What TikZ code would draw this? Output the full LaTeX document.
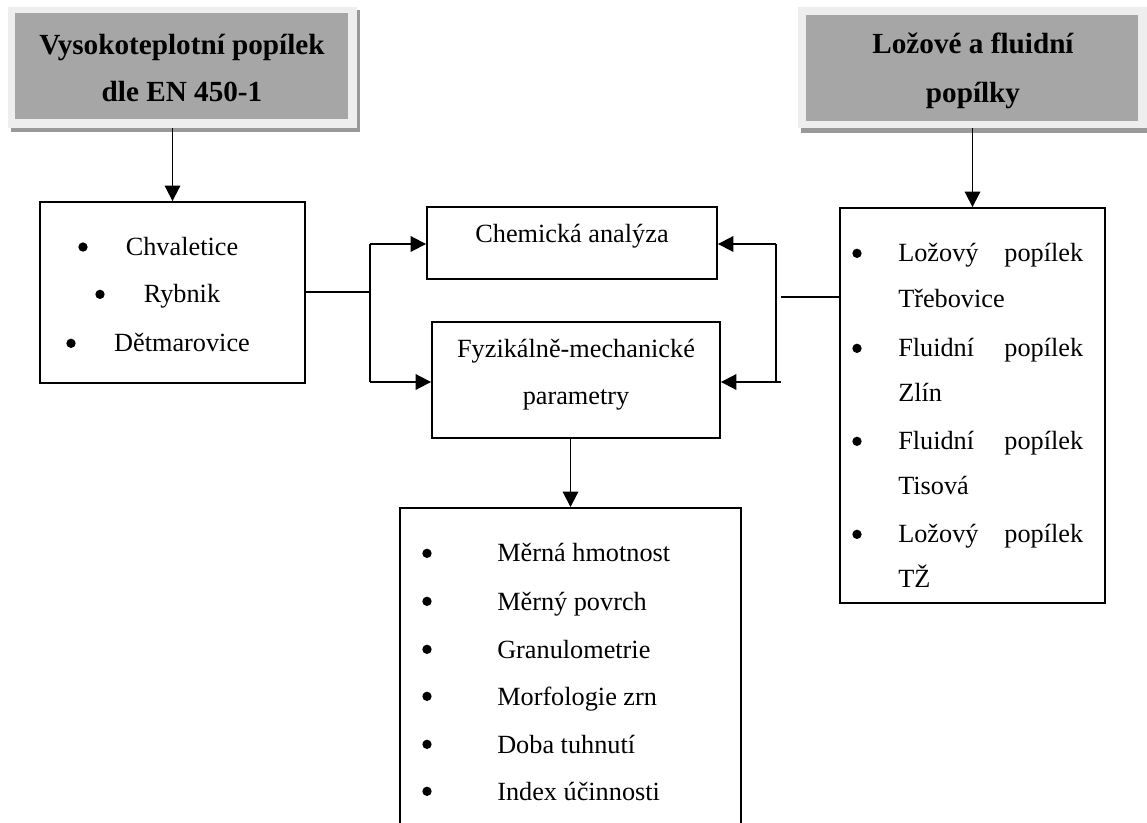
\documentclass[tikz,border=0pt]{standalone}
\usepackage{fontspec}
\setmainfont{Liberation Serif}
\usetikzlibrary{arrows.meta,fit}
\definecolor{titlefill}{HTML}{A6A6A6}
\definecolor{framefill}{HTML}{EEEEEE}
\definecolor{shadowfill}{HTML}{999999}
\begin{document}
\begin{tikzpicture}[x=0.75pt,y=-0.75pt,
  box/.style={draw=black,line width=1.4pt,inner sep=0pt,fill=white},
  plainfit/.style={inner sep=0pt,draw=none},
  lbl/.style={inner sep=0pt,anchor=base,font=\fontsize{19.7}{23}\selectfont},
  lblw/.style={lbl,anchor=base west},
  jlbl/.style={lblw,text width=138.75pt,align=justify},
  ttl/.style={inner sep=0pt,anchor=base,font=\fontsize{21.9}{26}\selectfont\bfseries},
  bul/.style={circle,fill=black,draw=none,inner sep=0pt,minimum size=7pt,yshift=6.5pt},
  arr/.style={line width=1.4pt,-{Triangle[length=11.5pt,width=11.5pt]}},
  con/.style={line width=1.4pt}]
\useasboundingbox (0,0) rectangle (1147,823);

% title boxes
\node[plainfit,fill=shadowfill,fit={(11,10) (360,132)}] (tlshadow) {};
\node[plainfit,fill=framefill,fit={(8,7) (357,128)}] (tlframe) {};
\node[plainfit,fill=titlefill,fit={(15,13) (348,119)}] (tlbox) {};
\node[ttl] (tl1) at (182,54.5) {Vysokoteplotní popílek};
\node[ttl] (tl2) at (182,101.7) {dle EN 450-1};

\node[plainfit,fill=shadowfill,fit={(801,10) (1156,133)}] (trshadow) {};
\node[plainfit,fill=framefill,fit={(798,7) (1152,128)}] (trframe) {};
\node[plainfit,fill=titlefill,fit={(806,15) (1138,121)}] (trbox) {};
\node[ttl] (tr1) at (973,53.5) {Ložové a fluidní};
\node[ttl] (tr2) at (973,103) {popílky};

% content boxes
\node[box,fit={(40,202) (305,383)}] (left) {};
\node[box,fit={(427,207) (717,279)}] (chem) {};
\node[box,fit={(432,322) (720,438)}] (fyz) {};
\node[box,fit={(840,208) (1105,603)}] (right) {};
\node[box,fit={(400,508) (741,845)}] (bottom) {};

% left box texts
\node[bul] (lb1) at (83,255.7) {};
\node[lbl] (lt1) at (182,255.7) {Chvaletice};
\node[bul] (lb2) at (100,303) {};
\node[lbl] (lt2) at (182,303) {Rybnik};
\node[bul] (lb3) at (71,352) {};
\node[lbl] (lt3) at (182,352) {Dětmarovice};

% middle boxes texts
\node[lbl] (ct) at (572,243) {Chemická analýza};
\node[lbl] (ft1) at (576,358) {Fyzikálně-mechanické};
\node[lbl] (ft2) at (576,405) {parametry};

% right box texts
\node[bul] (rb1) at (857,262) {};
\node[jlbl] (rt1) at (898,262) {Ložový\hfill popílek};
\node[lblw] (rt2) at (898,308) {Třebovice};
\node[bul] (rb2) at (857,357) {};
\node[jlbl] (rt3) at (898,357) {Fluidní\hfill popílek};
\node[lblw] (rt4) at (898,402) {Zlín};
\node[bul] (rb3) at (857,450) {};
\node[jlbl] (rt5) at (898,450) {Fluidní\hfill popílek};
\node[lblw] (rt6) at (898,495) {Tisová};
\node[bul] (rb4) at (857,543) {};
\node[jlbl] (rt7) at (898,543) {Ložový\hfill popílek};
\node[lblw] (rt8) at (898,588) {TŽ};

% bottom box texts
\node[bul] (bb1) at (427,562) {};
\node[lblw] (bt1) at (497,562) {Měrná hmotnost};
\node[bul] (bb2) at (427,610) {};
\node[lblw] (bt2) at (497,610) {Měrný povrch};
\node[bul] (bb3) at (427,658) {};
\node[lblw] (bt3) at (497,658) {Granulometrie};
\node[bul] (bb4) at (427,705) {};
\node[lblw] (bt4) at (497,705) {Morfologie zrn};
\node[bul] (bb5) at (427,753) {};
\node[lblw] (bt5) at (497,753) {Doba tuhnutí};
\node[bul] (bb6) at (427,800) {};
\node[lblw] (bt6) at (497,800) {Index účinnosti};

% connectors
\draw[arr] (left.north |- tlframe.south) -- (left.north);
\draw[arr] (right.north |- trframe.south) -- (right.north);
\draw[arr] (bottom.north |- fyz.south) -- (bottom.north);

\coordinate (jl) at (370,292);
\coordinate (jlt) at (370,244);
\coordinate (jlb) at (370,382);
\draw[con] (left.east |- jl) -- (jl);
\draw[con] (jlt) -- (jlb);
\draw[arr] (jlt) -- (chem.west |- jlt);
\draw[arr] (jlb) -- (fyz.west |- jlb);

\coordinate (jr) at (781,297);
\coordinate (jrt) at (776,244);
\coordinate (jrb) at (776,382);
\coordinate (jrbs) at (781,382);
\draw[con] (jr -| right.west) -- (jr);
\draw[con] (jrt) -- (jrb);
\draw[arr] (jrt) -- (chem.east |- jrt);
\draw[arr] (jrbs) -- (fyz.east |- jrbs);
\end{tikzpicture}
\end{document}
